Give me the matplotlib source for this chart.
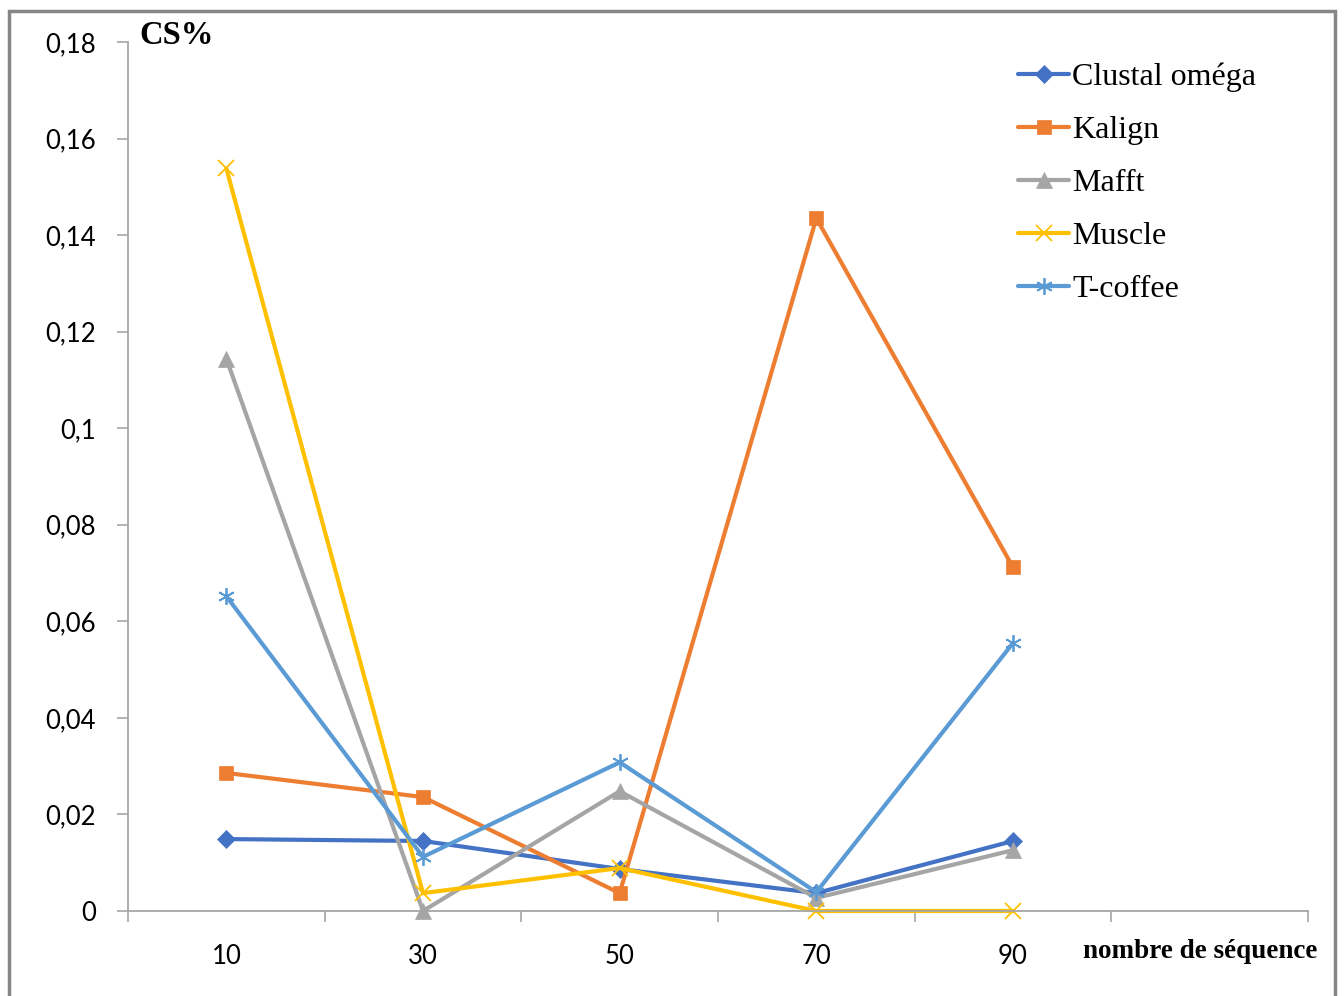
import numpy as np
import matplotlib.pyplot as plt
from matplotlib.patches import Rectangle

categories = ["10", "30", "50", "70", "90"]

clustal = [0.0149, 0.0145, 0.0087, 0.0037, 0.0145]
kalign = [0.0286, 0.0236, 0.0037, 0.1435, 0.0712]
mafft = [0.1144, 0.0, 0.0248, 0.0027, 0.0126]
muscle = [0.1538, 0.0037, 0.0089, 0.0, 0.0]
tcoffee = [0.0652, 0.0112, 0.0308, 0.0039, 0.0555]

series = [
    ("Clustal oméga", clustal, "#4472C4", "D", 9),
    ("Kalign", kalign, "#ED7D31", "s", 10.5),
    ("Mafft", mafft, "#A5A5A5", "^", 11),
    ("Muscle", muscle, "#FFC000", "x", 11),
    ("T-coffee", tcoffee, "#5B9BD5", (6, 2, 0), 12),
]

tick_font = "Lato"
serif = "Liberation Serif"
axis_grey = "#A6A6A6"

fig = plt.figure(figsize=(13.44, 9.96), dpi=100)
ax = fig.add_axes([128 / 1344, 1 - 911 / 996, (1308 - 128) / 1344, (911 - 42) / 996])

x = np.arange(len(categories))
for name, vals, color, marker, ms in series:
    thin = marker in ("x", (6, 2, 0))
    ax.plot(x, vals, color=color, lw=3.0, marker=marker, markersize=ms,
            markeredgewidth=1.3 if thin else 0.5,
            markeredgecolor=color, markerfacecolor=color, label=name,
            solid_capstyle="round", clip_on=False)

# one empty category slot on the right, like the spreadsheet chart
ax.set_xlim(-0.5, len(categories) + 0.5)
ax.set_ylim(0, 0.18)

ax.set_xticks(np.arange(-0.5, len(categories) + 1, 1.0))
ax.set_xticklabels([])
ax.set_xticks(x, minor=True)
ax.set_xticklabels(categories, minor=True)
ax.tick_params(axis="x", which="major", length=8, width=1.2, color=axis_grey, direction="out")
ax.tick_params(axis="x", which="minor", length=0, pad=24, labelsize=18.5)

yt = np.arange(0, 0.1801, 0.02)
ax.set_yticks(yt)
ax.set_yticklabels(["0" if v == 0 else f"{v:.2f}".rstrip("0").replace(".", ",") for v in yt])
ax.tick_params(axis="y", length=8, width=1.2, color=axis_grey, direction="out", pad=15, labelsize=18.5)

for lab in ax.get_xticklabels(minor=True) + ax.get_yticklabels():
    lab.set_fontfamily(tick_font)

for side in ("top", "right"):
    ax.spines[side].set_visible(False)
for side in ("left", "bottom"):
    ax.spines[side].set_color(axis_grey)
    ax.spines[side].set_linewidth(1.3)

fig.text(139 / 1344, 1 - 36 / 996, "CS%", fontsize=23.5, fontweight="bold",
         family=serif, va="center", ha="left")
fig.text(1317 / 1344, 1 - 951 / 996, "nombre de séquence", fontsize=19.5,
         fontweight="bold", family=serif, va="center", ha="right")

leg = ax.legend(loc="upper left", bbox_to_anchor=((1002 - 128) / 1180, 1 - (47 - 42) / 869),
                frameon=False, prop={"family": serif, "size": 23},
                handlelength=1.6, handletextpad=0.1, labelspacing=0.74, borderpad=0)

# chart border
fig.patches.append(Rectangle((9 / 1344, -0.01), (1335 - 9) / 1344, 1.01 - 11 / 996,
                             transform=fig.transFigure, fill=False,
                             edgecolor="#868686", lw=2.5))

fig.savefig("out.png", dpi=100)
